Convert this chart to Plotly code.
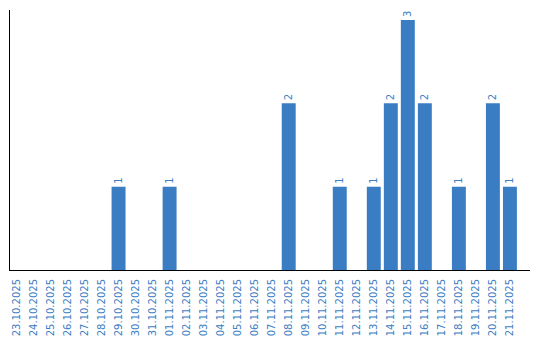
import plotly.graph_objects as go

dates = ["23.10.2025", "24.10.2025", "25.10.2025", "26.10.2025", "27.10.2025", "28.10.2025",
         "29.10.2025", "30.10.2025", "31.10.2025", "01.11.2025", "02.11.2025", "03.11.2025",
         "04.11.2025", "05.11.2025", "06.11.2025", "07.11.2025", "08.11.2025", "09.11.2025",
         "10.11.2025", "11.11.2025", "12.11.2025", "13.11.2025", "14.11.2025", "15.11.2025",
         "16.11.2025", "17.11.2025", "18.11.2025", "19.11.2025", "20.11.2025", "21.11.2025"]
counts = [0, 0, 0, 0, 0, 0,
          1, 0, 0, 1, 0, 0,
          0, 0, 0, 0, 2, 0,
          0, 1, 0, 1, 2, 3,
          2, 0, 1, 0, 2, 1]

labels = [str(v) if v else "" for v in counts]
bar_color = "#3b7dc3"

fig = go.Figure(go.Bar(
    x=dates, y=counts, marker_color=bar_color, marker_line_width=0,
    text=labels, textposition="outside", textangle=-90,
    textfont=dict(family="DejaVu Sans", size=10, color=bar_color),
    cliponaxis=False,
))

fig.update_layout(
    width=540, height=340,
    margin=dict(l=10, r=10, t=10, b=70),
    plot_bgcolor="white", paper_bgcolor="white",
    bargap=0.18, showlegend=False,
    font=dict(family="DejaVu Sans", size=10, color=bar_color),
)
fig.update_xaxes(type="category", range=[-0.38, 30.18], showline=True, linecolor="black",
                 linewidth=1, showgrid=False, ticks="", tickangle=-90, ticklabelstandoff=4,
                 automargin=False,
                 tickfont=dict(family="DejaVu Sans", size=10, color=bar_color))
fig.update_yaxes(range=[0, 3.12], showline=True, linecolor="black", linewidth=1,
                 showgrid=False, zeroline=False, showticklabels=False, ticks="",
                 automargin=False)

fig.write_html("out.html")
